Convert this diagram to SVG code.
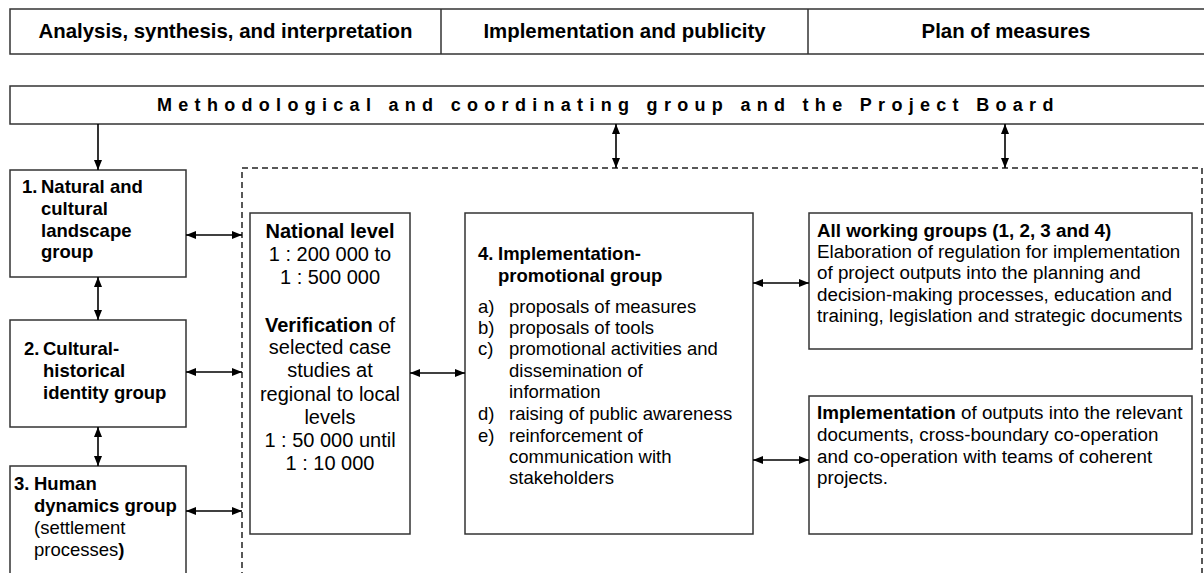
<svg xmlns="http://www.w3.org/2000/svg" width="1204" height="573" viewBox="0 0 1204 573">
<style>
text{font-family:"Liberation Sans",Arial,sans-serif;fill:#000}
.box{fill:#fff;stroke:#333;stroke-width:1.5}
.dash{fill:none;stroke:#222;stroke-width:1.5;stroke-dasharray:6,4}
.hdr{font-size:20.4px;font-weight:bold;text-anchor:middle}
.meth{font-size:18px;font-weight:bold;letter-spacing:6.3px}
.lg{font-size:18.5px;font-weight:bold}
.nat{font-size:20px;text-anchor:middle}
.t{font-size:18.5px}
.t2{font-size:18.8px}
.b{font-weight:bold}
.n{font-weight:normal}
.arr{stroke:#000;stroke-width:1.6;fill:none;marker-end:url(#ah);marker-start:url(#ahs)}
.arr1{stroke:#000;stroke-width:1.6;fill:none;marker-end:url(#ah)}
</style>
<defs>
<marker id="ah" markerUnits="userSpaceOnUse" markerWidth="10" markerHeight="8" refX="10" refY="4" orient="auto"><path d="M0,0 L10,4 L0,8 z" fill="#000"/></marker>
<marker id="ahs" markerUnits="userSpaceOnUse" markerWidth="10" markerHeight="8" refX="10" refY="4" orient="auto-start-reverse"><path d="M0,0 L10,4 L0,8 z" fill="#000"/></marker>
</defs>

<g id="phases">
<rect class="box" x="10" y="9" width="1200" height="45"/>
<line x1="441" y1="9" x2="441" y2="54" stroke="#333" stroke-width="1.5"/>
<line x1="808" y1="9" x2="808" y2="54" stroke="#333" stroke-width="1.5"/>
<text class="hdr" x="225.5" y="38">Analysis, synthesis, and interpretation</text>
<text class="hdr" x="624.5" y="38">Implementation and publicity</text>
<text class="hdr" x="1006" y="38">Plan of measures</text>
</g>

<g id="board">
<rect class="box" x="10" y="86" width="1200" height="38"/>
<text class="meth" x="157" y="111">Methodological and coordinating group and the Project Board</text>
</g>

<g id="frame">
<rect class="dash" x="242" y="168" width="960" height="420"/>
</g>

<g id="group1">
<rect class="box" x="10" y="170" width="176" height="107"/>
<text class="lg"><tspan x="22" y="193">1.</tspan><tspan x="41" y="193">Natural and</tspan><tspan x="41" y="215">cultural</tspan><tspan x="41" y="237">landscape</tspan><tspan x="41" y="258">group</tspan></text>
</g>

<g id="group2">
<rect class="box" x="10" y="320" width="176" height="107"/>
<text class="lg"><tspan x="24" y="355">2.</tspan><tspan x="43" y="355">Cultural-</tspan><tspan x="43" y="377">historical</tspan><tspan x="43" y="399">identity group</tspan></text>
</g>

<g id="group3">
<rect class="box" x="10" y="466" width="176" height="120"/>
<text class="lg"><tspan x="14" y="490">3.</tspan><tspan x="34" y="490">Human</tspan><tspan x="34" y="512">dynamics group</tspan><tspan x="34" y="534" class="n">(settlement</tspan><tspan x="34" y="556" class="n">processes</tspan><tspan>)</tspan></text>
</g>

<g id="national">
<rect class="box" x="250" y="213" width="160" height="321"/>
<text class="nat"><tspan x="330" y="238" class="b">National level</tspan><tspan x="330" y="261">1 : 200 000 to</tspan><tspan x="330" y="284">1 : 500 000</tspan><tspan x="330" y="332" class="b">Verification</tspan><tspan> of</tspan><tspan x="330" y="354">selected case</tspan><tspan x="330" y="377">studies at</tspan><tspan x="330" y="401">regional to local</tspan><tspan x="330" y="424">levels</tspan><tspan x="330" y="447">1 : 50 000 until</tspan><tspan x="330" y="470">1 : 10 000</tspan></text>
</g>

<g id="group4">
<rect class="box" x="465" y="213" width="288" height="321"/>
<text class="t b"><tspan x="478" y="260">4.</tspan><tspan x="498" y="260">Implementation-</tspan><tspan x="498" y="282">promotional group</tspan></text>
<text class="t"><tspan x="478" y="313">a)</tspan><tspan x="509" y="313">proposals of measures</tspan><tspan x="478" y="334">b)</tspan><tspan x="509" y="334">proposals of tools</tspan><tspan x="478" y="355">c)</tspan><tspan x="509" y="355">promotional activities and</tspan><tspan x="509" y="377">dissemination of</tspan><tspan x="509" y="398">information</tspan><tspan x="478" y="420">d)</tspan><tspan x="509" y="420">raising of public awareness</tspan><tspan x="478" y="442">e)</tspan><tspan x="509" y="442">reinforcement of</tspan><tspan x="509" y="463">communication with</tspan><tspan x="509" y="484">stakeholders</tspan></text>
</g>

<g id="allgroups">
<rect class="box" x="809" y="213" width="383" height="136"/>
<text class="t2"><tspan x="817" y="237" class="b">All working groups (1, 2, 3 and 4)</tspan><tspan x="817" y="258">Elaboration of regulation for implementation</tspan><tspan x="817" y="279">of project outputs into the planning and</tspan><tspan x="817" y="301">decision-making processes, education and</tspan><tspan x="817" y="322">training, legislation and strategic documents</tspan></text>
</g>

<g id="implementation">
<rect class="box" x="809" y="396" width="383" height="138"/>
<text class="t2"><tspan x="817" y="419" class="b">Implementation</tspan><tspan> of outputs into the relevant</tspan><tspan x="817" y="441">documents, cross-boundary co-operation</tspan><tspan x="817" y="463">and co-operation with teams of coherent</tspan><tspan x="817" y="484">projects.</tspan></text>
</g>

<g id="connectors">
<line class="arr1" x1="98" y1="124" x2="98" y2="170"/>
<line class="arr" x1="616" y1="124" x2="616" y2="168"/>
<line class="arr" x1="1005" y1="124" x2="1005" y2="168"/>
<line class="arr" x1="98" y1="277" x2="98" y2="320"/>
<line class="arr" x1="98" y1="427" x2="98" y2="466"/>
<line class="arr" x1="186" y1="235" x2="242" y2="235"/>
<line class="arr" x1="186" y1="372" x2="242" y2="372"/>
<line class="arr" x1="186" y1="511" x2="242" y2="511"/>
<line class="arr" x1="410" y1="373" x2="465" y2="373"/>
<line class="arr" x1="753" y1="283" x2="809" y2="283"/>
<line class="arr" x1="753" y1="460" x2="809" y2="460"/>
</g>
</svg>
